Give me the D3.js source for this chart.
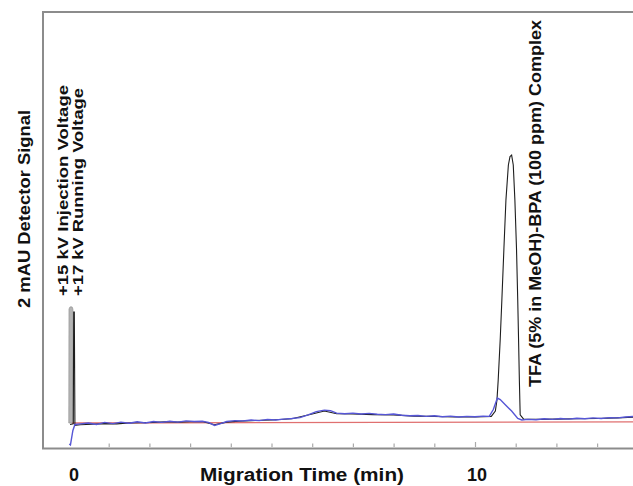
<!DOCTYPE html>
<html>
<head>
<meta charset="utf-8">
<script src="https://cdn.jsdelivr.net/npm/d3@7"></script>
<style>
  html, body { margin: 0; padding: 0; background: #fff; }
  text { font-family: Arial, 'Liberation Sans', sans-serif; font-weight: bold; fill: #111; }
</style>
</head>
<body>
<div id="chart"></div>
<script>
// blank run (blue)
const blankTime = [0.03, 0.06, 0.12, 0.17, 0.3, 0.5, 0.7, 0.9, 1.1, 1.3, 1.5, 1.7, 1.9, 2.1, 2.3, 2.5, 2.7, 2.9, 3.1, 3.3,
    3.45, 3.6, 3.75, 3.9, 4.1, 4.3, 4.5, 4.7, 4.9, 5.1, 5.3, 5.5, 5.7, 5.9, 6.1, 6.3, 6.45, 6.6, 6.8, 7.0,
    7.2, 7.4, 7.6, 7.8, 8.0, 8.2, 8.4, 8.6, 8.8, 9.0, 9.2, 9.4, 9.6, 9.8, 10.0, 10.2, 10.35, 10.45, 10.55, 10.62,
    10.75, 10.9, 11.05, 11.15, 11.3, 11.5, 11.7, 11.9, 12.1, 12.3, 12.5, 12.7, 12.9, 13.1, 13.3, 13.5, 13.7, 13.95];
const blankSignal = [-0.70, -0.73, -0.25, -0.05, -0.03, 0.00, -0.05, 0.02, -0.02, 0.03, -0.01, 0.04, 0.00, 0.05, 0.02, 0.06, 0.03, 0.07, 0.05, 0.06,
    0.02, -0.08, -0.02, 0.05, 0.08, 0.07, 0.10, 0.08, 0.12, 0.10, 0.13, 0.15, 0.18, 0.27, 0.38, 0.43, 0.41, 0.33, 0.31, 0.33,
    0.30, 0.32, 0.29, 0.28, 0.30, 0.26, 0.24, 0.25, 0.22, 0.24, 0.21, 0.23, 0.20, 0.22, 0.21, 0.23, 0.22, 0.45, 0.83, 0.78,
    0.60, 0.40, 0.15, 0.10, 0.12, 0.11, 0.14, 0.12, 0.15, 0.13, 0.16, 0.14, 0.17, 0.15, 0.18, 0.17, 0.20, 0.22];

// sample run (black)
const sampleTime = [0.05, 0.13, 0.14, 0.155, 0.17, 0.3, 0.6, 0.9, 1.2, 1.5, 1.8, 2.1, 2.4, 2.7, 3.0, 3.3, 3.6, 3.9, 4.2, 4.5,
    5.0, 5.5, 6.0, 6.3, 6.6, 7.0, 7.5, 8.0, 8.5, 9.0, 9.5, 10.0, 10.4, 10.5, 10.54, 10.57, 10.62, 10.66, 10.71, 10.76,
    10.82, 10.86, 10.9, 10.94, 10.98, 11.02, 11.05, 11.07, 11.09, 11.11, 11.2, 11.6, 12.0, 12.5, 13.0, 13.5, 13.95];
const sampleSignal = [-0.05, -0.03, 3.70, 3.70, -0.08, -0.06, -0.04, -0.02, -0.03, 0.00, 0.01, 0.02, 0.04, 0.03, 0.04, 0.05, -0.06, 0.03, 0.06, 0.08,
    0.10, 0.14, 0.30, 0.40, 0.31, 0.30, 0.28, 0.27, 0.23, 0.22, 0.20, 0.20, 0.22, 0.40, 0.77, 1.43, 2.80, 4.10, 5.80, 7.43,
    8.60, 8.88, 8.93, 8.60, 7.43, 5.80, 4.10, 2.80, 1.43, 0.27, 0.12, 0.12, 0.13, 0.14, 0.15, 0.17, 0.20];

// injection band (grey)
const injectTime = [0.02, 0.025, 0.05, 0.1, 0.12, 0.125];
const injectSignal = [0.0, 3.80, 3.87, 3.87, 3.80, 0.0];

// reference baseline (red)
const baselineTime = [0.1, 13.95];
const baselineSignal = [0.0, 0.04];

const tickMinutes = [1, 2, 3, 4, 5, 6, 7, 8, 9, 10, 11, 12, 13];
const labelMinutes = [0, 10];

var makeElectropherogram = (function chartIIFE() {
    const WIDTH = 633;
    const HEIGHT = 486;
    const frame = { left: 43, top: 12, right: 650, bottom: 448.5 };

    return function makeElectropherogram(selector) {
        const svg = d3.select(selector)
            .append('svg')
            .attr('width', WIDTH)
            .attr('height', HEIGHT);

        const x = d3.scaleLinear().domain([0, 10]).range([68, 475]);
        const y = d3.scaleLinear().domain([0, 10]).range([423, 123]);

        const line = d3.line()
            .x(d => x(d[0]))
            .y(d => y(d[1]));

        const zip = (ts, vs) => ts.map((t, i) => [t, vs[i]]);

        // injection band
        svg.append('path')
            .datum(zip(injectTime, injectSignal))
            .attr('d', d3.area().x(d => x(d[0])).y0(y(0)).y1(d => y(d[1])))
            .attr('fill', '#b4b4b4')
            .attr('stroke', '#999')
            .attr('stroke-width', 0.8);

        svg.append('path')
            .datum(zip(baselineTime, baselineSignal))
            .attr('d', line)
            .attr('fill', 'none')
            .attr('stroke', '#e07070')
            .attr('stroke-width', 1.3);

        svg.append('path')
            .datum(zip(sampleTime, sampleSignal))
            .attr('d', line)
            .attr('fill', 'none')
            .attr('stroke', '#1e1e1e')
            .attr('stroke-width', 1.1);

        svg.append('path')
            .datum(zip(blankTime, blankSignal))
            .attr('d', line)
            .attr('fill', 'none')
            .attr('stroke', '#5656d6')
            .attr('stroke-width', 1.4);

        // frame (right side runs off the picture)
        svg.append('rect')
            .attr('x', frame.left)
            .attr('y', frame.top)
            .attr('width', frame.right - frame.left)
            .attr('height', frame.bottom - frame.top)
            .attr('fill', 'none')
            .attr('stroke', '#8c8c8c')
            .attr('stroke-width', 2);

        const axis = d3.axisBottom(x)
            .tickValues(tickMinutes)
            .tickSize(-3.5)
            .tickFormat('');

        const axisG = svg.append('g')
            .attr('transform', `translate(0,${frame.bottom - 1.5})`)
            .call(axis);
        axisG.select('.domain').remove();
        axisG.selectAll('.tick line')
            .attr('stroke', '#aaa')
            .attr('stroke-width', 1.2)
            .filter(d => d === 10)
            .attr('y2', -5);

        svg.selectAll('.min-label')
            .data(labelMinutes)
            .join('text')
            .attr('class', 'min-label')
            .attr('x', d => x(d) + (d === 0 ? 6 : 2))
            .attr('y', 481)
            .attr('text-anchor', 'middle')
            .style('font-size', '18px')
            .text(d => d);

        svg.append('text')
            .attr('x', 200)
            .attr('y', 481)
            .attr('textLength', 204)
            .attr('lengthAdjust', 'spacingAndGlyphs')
            .style('font-size', '18px')
            .text('Migration Time (min)');

        addVerticalText(svg, 24, 308, 198, 16, '2 mAU Detector Signal');
        addVerticalText(svg, 63, 296, 211, 15, '+15 kV Injection Voltage');
        addVerticalText(svg, 78, 296, 208, 15, '+17 kV Running Voltage');
        addVerticalText(svg, 535, 387, 367, 16, 'TFA (5% in MeOH)-BPA (100 ppm) Complex');
    };

    function addVerticalText(svg, cx, startY, length, size, label) {
        svg.append('text')
            .attr('transform', `translate(${cx},${startY}) rotate(-90)`)
            .attr('dy', '0.35em')
            .attr('textLength', length)
            .attr('lengthAdjust', 'spacingAndGlyphs')
            .style('font-size', `${size}px`)
            .text(label);
    }
})();

makeElectropherogram('#chart');
</script>
</body>
</html>
